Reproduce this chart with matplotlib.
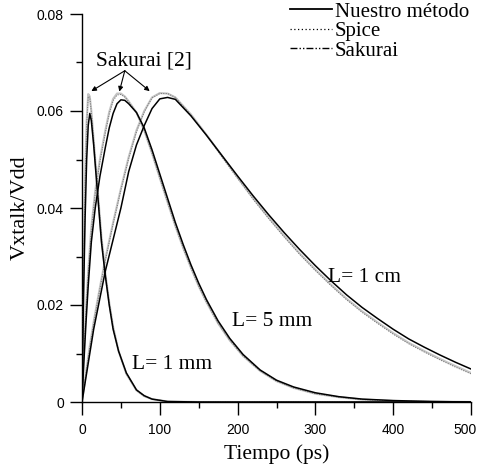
import matplotlib
matplotlib.use("Agg")
import matplotlib.pyplot as plt
from matplotlib.lines import Line2D
from matplotlib.transforms import ScaledTranslation

# ---------------- data ----------------
t_1mm = [0, 2, 4, 6, 8, 10, 12, 15, 20, 25, 30, 35, 40, 47, 57, 70, 80, 90, 110, 150, 500]
nuestro_1mm = [0, 0.022, 0.038, 0.050, 0.057, 0.0595, 0.058, 0.053, 0.043, 0.033, 0.026,
               0.020, 0.015, 0.0105, 0.006, 0.0025, 0.0013, 0.0006, 0.0001, 0, 0]
sakurai_1mm = [0, 0.027, 0.046, 0.058, 0.0635, 0.063, 0.060, 0.054, 0.044, 0.034, 0.0265,
               0.0205, 0.0155, 0.0105, 0.0058, 0.0024, 0.0012, 0.0006, 0.0001, 0, 0]
spice_1mm = [0, 0.026, 0.045, 0.057, 0.0630, 0.0628, 0.0598, 0.054, 0.044, 0.034, 0.0265,
             0.0205, 0.0155, 0.0105, 0.0058, 0.0024, 0.0012, 0.0006, 0.0001, 0, 0]

t_5mm = [0, 2, 5, 8, 12, 17, 23, 30, 35, 40, 45, 50, 55, 60, 70, 80, 90, 100, 110, 120,
         130, 140, 150, 160, 175, 190, 207, 229, 250, 272, 300, 330, 360, 400, 450, 500]
nuestro_5mm = [0, 0.007, 0.016, 0.024, 0.033, 0.040, 0.0465, 0.0525, 0.0565, 0.0595, 0.0615,
               0.0623, 0.0622, 0.0615, 0.0597, 0.0565, 0.0520, 0.0470, 0.0420, 0.0370,
               0.0325, 0.0283, 0.0245, 0.0211, 0.0167, 0.0131, 0.0098, 0.0066, 0.0045,
               0.0031, 0.0019, 0.0011, 0.0006, 0.0003, 0.0001, 0]
sakurai_5mm = [0, 0.009, 0.019, 0.027, 0.036, 0.0435, 0.050, 0.0560, 0.0598, 0.0625, 0.0636,
               0.0636, 0.0630, 0.0620, 0.0597, 0.0560, 0.0513, 0.0462, 0.0412, 0.0363,
               0.0318, 0.0277, 0.0239, 0.0206, 0.0162, 0.0127, 0.0095, 0.0064, 0.0043,
               0.0029, 0.0017, 0.0010, 0.0005, 0.0002, 0.0001, 0]
spice_5mm = [0, 0.0085, 0.0185, 0.0265, 0.0355, 0.043, 0.0495, 0.0555, 0.0594, 0.0621, 0.0633,
             0.0634, 0.0629, 0.0619, 0.0596, 0.0560, 0.0513, 0.0462, 0.0412, 0.0363,
             0.0318, 0.0277, 0.0239, 0.0206, 0.0162, 0.0127, 0.0095, 0.0064, 0.0043,
             0.0029, 0.0017, 0.0010, 0.0005, 0.0002, 0.0001, 0]

t_1cm = [0, 5, 10, 15, 20, 25, 30, 40, 50, 60, 70, 80, 90, 100, 110, 120, 140, 160, 180,
         200, 220, 240, 260, 280, 300, 320, 340, 360, 380, 400, 420, 440, 460, 480, 500]
nuestro_1cm = [0, 0.005, 0.010, 0.015, 0.019, 0.023, 0.027, 0.0335, 0.040, 0.0475, 0.053,
               0.057, 0.0605, 0.0625, 0.0628, 0.0624, 0.0590, 0.0550, 0.0508, 0.0466,
               0.0425, 0.0386, 0.0349, 0.0314, 0.0281, 0.0250, 0.0221, 0.0195, 0.0172,
               0.0150, 0.0130, 0.0113, 0.0097, 0.0082, 0.0068]
sakurai_1cm = [0, 0.006, 0.0115, 0.0165, 0.021, 0.0253, 0.0295, 0.037, 0.0440, 0.0505,
               0.0560, 0.0600, 0.0628, 0.0637, 0.0636, 0.0628, 0.0593, 0.0551, 0.0507,
               0.0463, 0.0420, 0.0380, 0.0342, 0.0306, 0.0273, 0.0242, 0.0213, 0.0187,
               0.0164, 0.0142, 0.0122, 0.0105, 0.0089, 0.0074, 0.0060]
spice_1cm = [0, 0.0058, 0.0112, 0.0162, 0.0207, 0.025, 0.0292, 0.0367, 0.0437, 0.0502,
             0.0557, 0.0598, 0.0627, 0.0636, 0.0636, 0.0628, 0.0592, 0.0550, 0.0505,
             0.0461, 0.0418, 0.0378, 0.0340, 0.0304, 0.0271, 0.0240, 0.0211, 0.0185,
             0.0162, 0.0140, 0.0120, 0.0103, 0.0087, 0.0072, 0.0058]

x_ticks = [0, 100, 200, 300, 400, 500]
x_tick_labels = ["0", "100", "200", "300", "400", "500"]
y_ticks = [0, 0.02, 0.04, 0.06, 0.08]
y_tick_labels = ["0", "0.02", "0.04", "0.06", "0.08"]

series_labels = ["Nuestro método", "Spice", "Sakurai"]
curve_labels = ["L= 1 mm", "L= 5 mm", "L= 1 cm"]
label_pos = [(64, 0.0078), (193, 0.0165), (316, 0.0256)]
annot_text = "Sakurai [2]"
annot_text_pos = (80, 0.0703)
annot_start = (55, 0.0683)
annot_tips = [(12, 0.0641), (48, 0.0640), (87, 0.0641)]

# ---------------- figure ----------------
serif = ["Liberation Serif", "DejaVu Serif"]
sans = ["Liberation Sans", "DejaVu Sans"]

fig = plt.figure(figsize=(4.81, 4.71), dpi=100)
ax = fig.add_axes([82 / 481, 1 - 402 / 471, (471 - 82) / 481, (402 - 14) / 471])

gray = "#c4c4c4"
for t, nu, sk, sp in [(t_1mm, nuestro_1mm, sakurai_1mm, spice_1mm),
                      (t_5mm, nuestro_5mm, sakurai_5mm, spice_5mm),
                      (t_1cm, nuestro_1cm, sakurai_1cm, spice_1cm)]:
    ax.plot(t, sk, color=gray, lw=1.5, zorder=2, solid_joinstyle="round")
    ax.plot(t, sp, color="#707070", lw=0.7, linestyle=(0, (1, 1.5)), zorder=3)
    ax.plot(t, nu, color="black", lw=1.1, zorder=4, solid_joinstyle="round")

ax.set_xlim(0, 500)
ax.set_ylim(0, 0.08)
ax.spines["top"].set_visible(False)
ax.spines["right"].set_visible(False)
for s in ("left", "bottom"):
    ax.spines[s].set_linewidth(1.0)

ax.set_xticks(x_ticks)
ax.set_xticklabels(x_tick_labels)
ax.set_yticks(y_ticks)
ax.set_yticklabels(y_tick_labels)
ax.set_xticks([50, 150, 250, 350, 450], minor=True)
ax.set_yticks([0.01, 0.03, 0.05, 0.07], minor=True)
ax.tick_params(which="major", direction="out", length=9, width=1.0, labelsize=10, pad=4)
ax.tick_params(which="minor", direction="out", length=4.5, width=1.0)
ax.tick_params(axis="x", which="major", pad=6)
for lab in ax.get_xticklabels() + ax.get_yticklabels():
    lab.set_family(sans)
# keep the last x tick label inside the canvas
last = ax.get_xticklabels()[-1]
last.set_transform(last.get_transform() + ScaledTranslation(-4 / 72, 0, fig.dpi_scale_trans))

ax.set_xlabel("Tiempo (ps)", family=serif, fontsize=15.5, labelpad=5)
ax.set_ylabel("Vxtalk/Vdd", family=serif, fontsize=16, labelpad=5)

for txt, (x, y) in zip(curve_labels, label_pos):
    ax.text(x, y, txt, family=serif, fontsize=15.5, ha="left", va="center")

ax.text(annot_text_pos[0], annot_text_pos[1], annot_text, family=serif, fontsize=15.5,
        ha="center", va="center")
for tip in annot_tips:
    ax.annotate("", xy=tip, xytext=annot_start,
                arrowprops=dict(arrowstyle="-|>", color="black", lw=0.8,
                                mutation_scale=7, shrinkA=0, shrinkB=0))

handles = [Line2D([], [], color="black", lw=1.3),
           Line2D([], [], color="black", lw=0.9, linestyle=(0, (1, 2))),
           Line2D([], [], color="black", lw=1.0, linestyle=(0, (5, 1.5, 1, 1.5, 1, 1.5)))]
leg = fig.legend(handles, series_labels, loc="upper right",
                 bbox_to_anchor=(469 / 481, 1 - 2 / 471), frameon=False,
                 prop={"family": serif, "size": 15}, handlelength=2.0,
                 handletextpad=0.15, labelspacing=0.0, borderaxespad=0, borderpad=0)

fig.savefig("out.png", dpi=100)
